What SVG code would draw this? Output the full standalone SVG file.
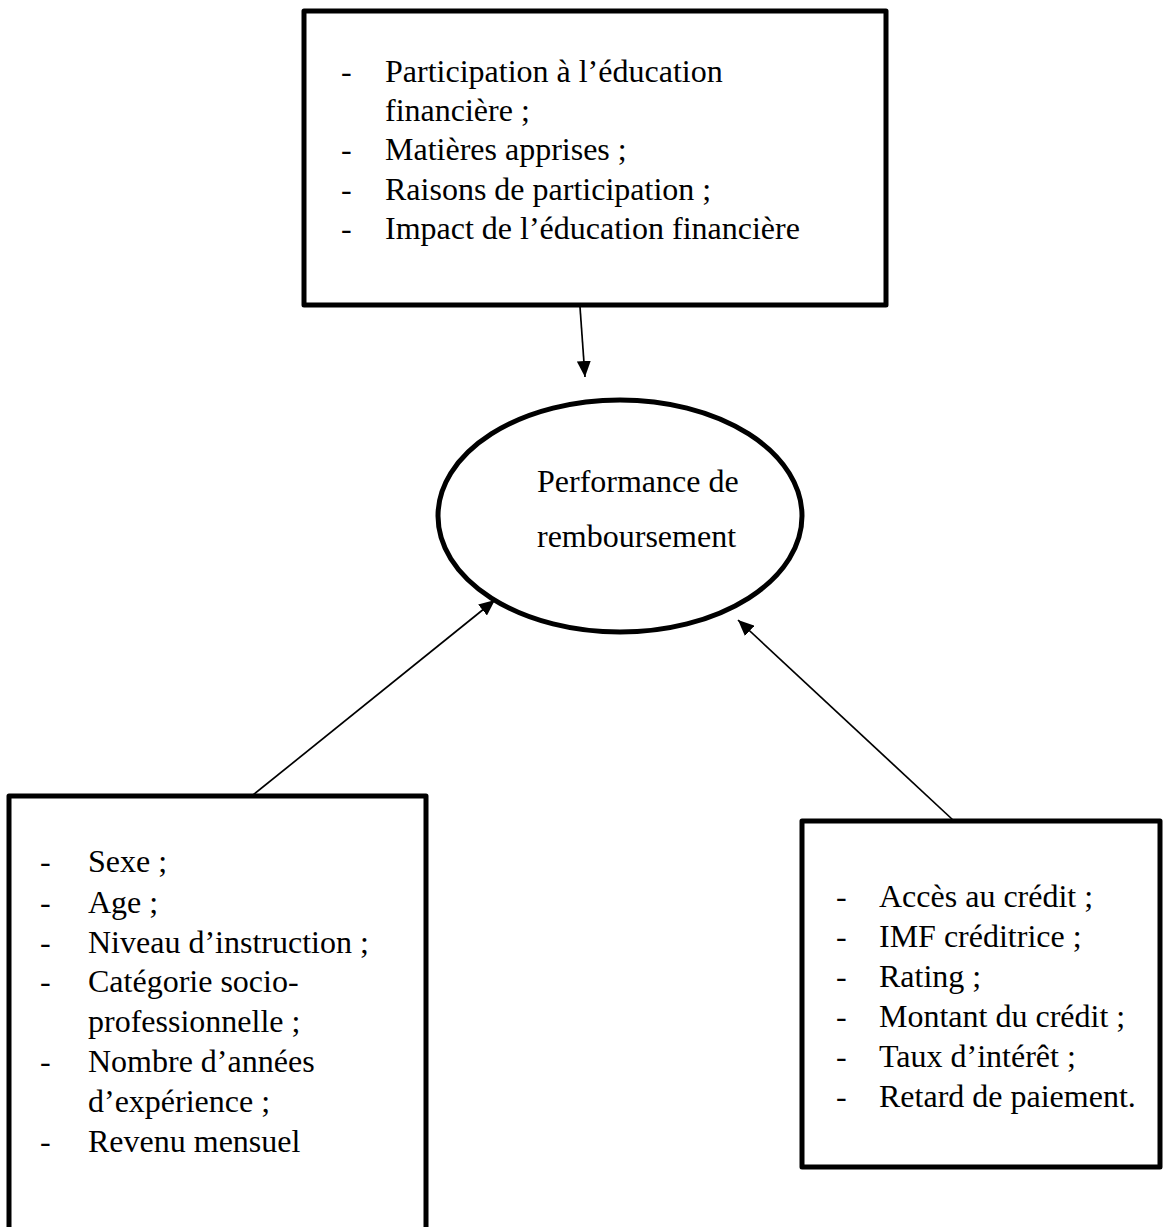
<svg xmlns="http://www.w3.org/2000/svg" width="1163" height="1227" viewBox="0 0 1163 1227">
<style>
.box{fill:#fff;stroke:#000;stroke-width:5;stroke-linejoin:round}
.ell{fill:#fff;stroke:#000;stroke-width:5}
.t{font-family:"Liberation Serif","Times New Roman",serif;font-size:32px;fill:#000}
.c{stroke:#000;stroke-width:1.7;fill:none}
</style>
<defs>
<marker id="ah" markerUnits="userSpaceOnUse" markerWidth="16" markerHeight="14" viewBox="0 0 16 14" refX="16" refY="7" orient="auto">
<path d="M0,0 L16,7 L0,14 z" fill="#000"/>
</marker>
</defs>
<g id="node-top">
<rect class="box" x="304" y="11" width="582" height="294"/>
<text class="t"><tspan x="341" y="82">-</tspan><tspan x="385" y="82">Participation à l’éducation</tspan><tspan x="385" y="121">financière ;</tspan><tspan x="341" y="160">-</tspan><tspan x="385" y="160">Matières apprises ;</tspan><tspan x="341" y="200">-</tspan><tspan x="385" y="200">Raisons de participation ;</tspan><tspan x="341" y="239">-</tspan><tspan x="385" y="239">Impact de l’éducation financière</tspan></text>
</g>
<g id="node-center">
<ellipse class="ell" cx="620" cy="516" rx="182" ry="116"/>
<text class="t"><tspan x="537" y="492">Performance de</tspan><tspan x="537" y="547">remboursement</tspan></text>
</g>
<g id="node-left">
<rect class="box" x="9" y="796" width="417" height="460"/>
<text class="t"><tspan x="40" y="872">-</tspan><tspan x="88" y="872">Sexe ;</tspan><tspan x="40" y="913">-</tspan><tspan x="88" y="913">Age ;</tspan><tspan x="40" y="953">-</tspan><tspan x="88" y="953">Niveau d’instruction ;</tspan><tspan x="40" y="992">-</tspan><tspan x="88" y="992">Catégorie socio-</tspan><tspan x="88" y="1032">professionnelle ;</tspan><tspan x="40" y="1072">-</tspan><tspan x="88" y="1072">Nombre d’années</tspan><tspan x="88" y="1112">d’expérience ;</tspan><tspan x="40" y="1152">-</tspan><tspan x="88" y="1152">Revenu mensuel</tspan></text>
</g>
<g id="node-right">
<rect class="box" x="802" y="821" width="358" height="346"/>
<text class="t"><tspan x="836" y="907">-</tspan><tspan x="879" y="907">Accès au crédit ;</tspan><tspan x="836" y="947">-</tspan><tspan x="879" y="947">IMF créditrice ;</tspan><tspan x="836" y="987">-</tspan><tspan x="879" y="987">Rating ;</tspan><tspan x="836" y="1027">-</tspan><tspan x="879" y="1027">Montant du crédit ;</tspan><tspan x="836" y="1067">-</tspan><tspan x="879" y="1067">Taux d’intérêt ;</tspan><tspan x="836" y="1107">-</tspan><tspan x="879" y="1107">Retard de paiement.</tspan></text>
</g>
<g id="connectors">
<line class="c" x1="580" y1="307" x2="585" y2="377" marker-end="url(#ah)"/>
<line class="c" x1="253" y1="795" x2="495" y2="600" marker-end="url(#ah)"/>
<line class="c" x1="953" y1="820" x2="738" y2="620" marker-end="url(#ah)"/>
</g>
</svg>
